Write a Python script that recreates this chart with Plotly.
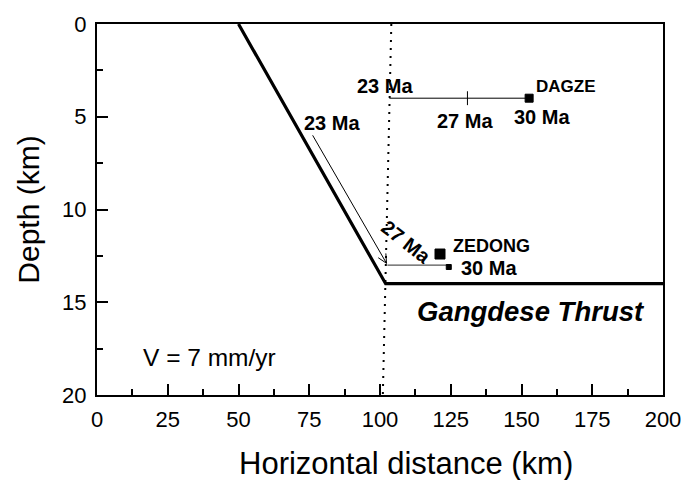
import math
import plotly.graph_objects as go

# ---- data ----
fault_x = [50, 102, 200]          # Gangdese Thrust trace (km)
fault_y = [0, 14, 14]             # depth (km)

ref_x = [104, 101]                # dotted reference line
ref_y = [0, 20]

zed_path_x = [76.2, 102.3]        # Zedong exhumation path along the ramp
zed_path_y = [6.0, 12.9]
zed_flat_x = [102.6, 124.3]       # Zedong flat path
zed_flat_y = [13.0, 13.0]

dag_path_x = [103.3, 152.7]       # Dagze path
dag_path_y = [4.0, 4.0]
dag_tick_x = 130.9                # 27 Ma tick

sample_x = [121.2, 124.3, 152.7]  # ZEDONG, Zedong 30 Ma, DAGZE
sample_y = [12.4, 13.1, 4.0]
sample_size = [10, 5, 8]

labels = ["23 Ma", "DAGZE", "27 Ma", "30 Ma", "23 Ma", "ZEDONG", "30 Ma"]
label_x = [101.8, 165.7, 130.2, 157.2, 83.2, 139.4, 138.4]
label_y = [3.32, 3.38, 5.22, 5.02, 5.32, 11.98, 13.15]
label_size = [20, 17, 20, 20, 20, 18, 20]

x_ticks = [0, 25, 50, 75, 100, 125, 150, 175, 200]
x_minor = [12.5, 37.5, 62.5, 87.5, 112.5, 137.5, 162.5, 187.5]
y_ticks = [0, 5, 10, 15, 20]
y_right_ticks = [2.5, 5, 7.5, 10, 12.5, 15, 17.5]

X_RANGE = [0, 200]
Y_RANGE = [20, 0]

# ---- layout geometry ----
W, H = 696, 480
ML, MR, MT, MB = 97, 33, 21, 85
px_x = (W - ML - MR) / 200.0
px_y = (H - MT - MB) / 20.0

FONT = "Liberation Sans, Arial, sans-serif"

fig = go.Figure()

fig.add_trace(go.Scatter(x=ref_x, y=ref_y, mode="lines",
                         line=dict(color="black", width=2, dash="2px,6px"),
                         hoverinfo="skip"))
fig.add_trace(go.Scatter(x=fault_x, y=fault_y, mode="lines",
                         line=dict(color="black", width=3.2),
                         hoverinfo="skip"))
fig.add_trace(go.Scatter(x=zed_path_x, y=zed_path_y, mode="lines",
                         line=dict(color="black", width=1),
                         hoverinfo="skip"))
fig.add_trace(go.Scatter(x=zed_flat_x, y=zed_flat_y, mode="lines",
                         line=dict(color="#555", width=1.3),
                         hoverinfo="skip"))
fig.add_trace(go.Scatter(x=dag_path_x, y=dag_path_y, mode="lines",
                         line=dict(color="black", width=1),
                         hoverinfo="skip"))

# arrowhead (open V) at end of the ramp path, computed in pixel space
dxp = (zed_path_x[1] - zed_path_x[0]) * px_x
dyp = (zed_path_y[1] - zed_path_y[0]) * px_y
ang = math.atan2(dyp, dxp)
L = 10
ax, ay = [], []
for s in (1, -1):
    a = ang + math.pi + s * math.radians(26)
    ax += [zed_path_x[1] + L * math.cos(a) / px_x, zed_path_x[1], None]
    ay += [zed_path_y[1] + L * math.sin(a) / px_y, zed_path_y[1], None]
fig.add_trace(go.Scatter(x=ax, y=ay, mode="lines",
                         line=dict(color="black", width=1), hoverinfo="skip"))

# 27 Ma tick on Dagze path
tick_half = 7 / px_y
fig.add_trace(go.Scatter(x=[dag_tick_x, dag_tick_x],
                         y=[dag_path_y[0] - tick_half, dag_path_y[0] + tick_half],
                         mode="lines", line=dict(color="black", width=1),
                         hoverinfo="skip"))

fig.add_trace(go.Scatter(x=sample_x, y=sample_y, mode="markers",
                         marker=dict(symbol="square", size=sample_size,
                                     color="#000000", opacity=1,
                                     line=dict(width=1, color="#000000")),
                         hoverinfo="skip"))

# outward ticks on the top and right frame, drawn as unclipped line markers
top_major_len, top_minor_len, right_len = 11, 6, 4
fig.add_trace(go.Scatter(
    x=x_ticks, y=[Y_RANGE[1] - (top_major_len / 2 + 1) / px_y] * len(x_ticks),
    mode="markers", cliponaxis=False, hoverinfo="skip",
    marker=dict(symbol="line-ns", size=top_major_len, color="black",
                line=dict(width=2, color="black"))))
fig.add_trace(go.Scatter(
    x=x_minor, y=[Y_RANGE[1] - (top_minor_len / 2 + 1) / px_y] * len(x_minor),
    mode="markers", cliponaxis=False, hoverinfo="skip",
    marker=dict(symbol="line-ns", size=top_minor_len, color="black",
                line=dict(width=2, color="black"))))
fig.add_trace(go.Scatter(
    x=[X_RANGE[1] + (right_len / 2 + 1) / px_x] * len(y_right_ticks),
    y=y_right_ticks,
    mode="markers", cliponaxis=False, hoverinfo="skip",
    marker=dict(symbol="line-ew", size=right_len, color="black",
                line=dict(width=1, color="black"))))

for t, x, y, s in zip(labels, label_x, label_y, label_size):
    fig.add_annotation(x=x, y=y, text="<b>%s</b>" % t, showarrow=False,
                       xanchor="center", yanchor="middle",
                       font=dict(family=FONT, size=s, color="black"))

fig.add_annotation(x=109.3, y=11.75, text="<b>27 Ma</b>", showarrow=False,
                   textangle=38, xanchor="center", yanchor="middle",
                   font=dict(family=FONT, size=20, color="black"))
fig.add_annotation(x=153.4, y=15.5, text="<b><i>Gangdese Thrust</i></b>",
                   showarrow=False, xanchor="center", yanchor="middle",
                   font=dict(family=FONT, size=27.5, color="black"))
fig.add_annotation(x=39.9, y=18.0, text="V = 7 mm/yr", showarrow=False,
                   xanchor="center", yanchor="middle",
                   font=dict(family=FONT, size=24.5, color="black"))

# x axis title (placed as in the reference, slightly right of centre)
fig.add_annotation(xref="paper", yref="paper", x=(406 - ML) / (W - ML - MR),
                   y=-(464 - (H - MB)) / (H - MT - MB),
                   text="Horizontal distance (km)", showarrow=False,
                   xanchor="center", yanchor="middle", borderpad=0,
                   font=dict(family=FONT, size=31, color="black"))

fig.update_layout(
    width=W, height=H,
    margin=dict(l=ML, r=MR, t=MT, b=MB),
    paper_bgcolor="white", plot_bgcolor="white",
    showlegend=False,
    font=dict(family=FONT, color="black"),
    xaxis=dict(range=X_RANGE, tickvals=x_ticks, ticks="inside", ticklen=11,
               tickwidth=2, tickcolor="black",
               minor=dict(dtick=12.5, tick0=0, ticks="inside", ticklen=6,
                          tickwidth=2, tickcolor="black"),
               showline=True, mirror=True, linewidth=2, linecolor="black",
               showgrid=False, zeroline=False,
               tickfont=dict(size=22, family=FONT),
               ticklabelstandoff=4),
    yaxis=dict(range=Y_RANGE, tickvals=y_ticks, ticks="inside", ticklen=11,
               tickwidth=2, tickcolor="black",
               minor=dict(dtick=2.5, tick0=0, ticks="inside", ticklen=6,
                          tickwidth=2, tickcolor="black"),
               showline=True, mirror=True, linewidth=2, linecolor="black",
               showgrid=False, zeroline=False,
               tickfont=dict(size=22, family=FONT),
               ticklabelstandoff=4,
               title=dict(text="Depth (km)",
                          font=dict(size=30, family=FONT), standoff=14)),
)

fig.write_html("out.html")
